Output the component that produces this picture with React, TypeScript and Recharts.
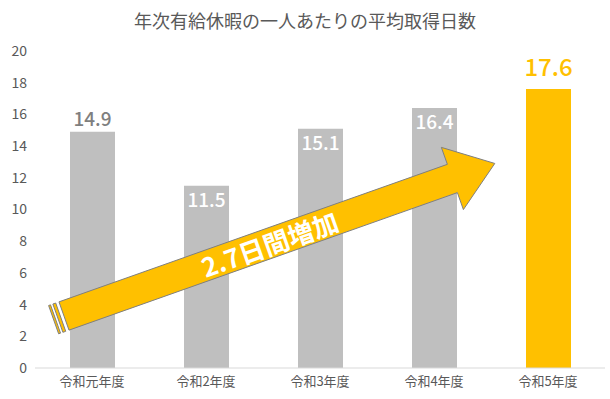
import { BarChart, Bar, XAxis, YAxis, Cell, LabelList } from "recharts";

const years = ["令和元年度", "令和2年度", "令和3年度", "令和4年度", "令和5年度"];
const days = [14.9, 11.5, 15.1, 16.4, 17.6];
const yTicks = [0, 2, 4, 6, 8, 10, 12, 14, 16, 18, 20];
const title = "年次有給休暇の一人あたりの平均取得日数";
const arrowText = "2.7日間増加";

const data = years.map((year, i) => ({ year, days: days[i] }));

const GRAY = "#bfbfbf";
const ORANGE = "#ffc000";
const FONT = "'Noto Sans CJK JP', 'Noto Sans', sans-serif";

// value label: first bar above in gray, middle ones inside in white, last one big orange
function ValueLabel(props: any) {
  const { x, y, width, value, index } = props;
  const cx = x + width / 2;
  if (index === days.length - 1) {
    return (
      <text x={cx} y={y - 13} textAnchor="middle" fill={ORANGE} fontSize={24} fontWeight={500} fontFamily={FONT}>
        {value}
      </text>
    );
  }
  if (index === 0) {
    return (
      <text x={cx} y={y - 6} textAnchor="middle" fill="#7f7f7f" fontSize={19} fontWeight={500} fontFamily={FONT}>
        {value}
      </text>
    );
  }
  return (
    <text x={cx} y={y + 21} textAnchor="middle" fill="#ffffff" fontSize={19} fontWeight={500} fontFamily={FONT}>
      {value}
    </text>
  );
}

// big "increase" arrow annotation drawn over the bars
function Overlay() {
  const ang = (-19.5 * Math.PI) / 180;
  const ux = Math.cos(ang);
  const uy = Math.sin(ang);
  const px = -uy;
  const py = ux;
  const ox = 64;
  const oy = 316;
  const pt = (a: number, p: number) => `${ox + ux * a + px * p},${oy + uy * a + py * p}`;
  const shaft = 15;
  const head = 33;
  const base = 412;
  const tip = 457;
  const body = [
    pt(0, -shaft),
    pt(base, -shaft),
    pt(base, -head),
    pt(tip, 0),
    pt(base, head),
    pt(base, shaft),
    pt(0, shaft),
  ].join(" ");
  const stripe = (a0: number, a1: number) =>
    [pt(a0, -shaft), pt(a1, -shaft), pt(a1, shaft), pt(a0, shaft)].join(" ");
  const tc = { x: ox + ux * 218, y: oy + uy * 218 };
  return (
    <svg width={610} height={399} style={{ position: "absolute", left: 0, top: 0, pointerEvents: "none" }}>
      <text x={305} y={28} textAnchor="middle" fill="#595959" fontSize={18} fontFamily={FONT}>
        {title}
      </text>
      <polygon points={stripe(-11, -9)} fill={ORANGE} stroke="#7f7f7f" strokeWidth={1} />
      <polygon points={stripe(-6.5, -3.5)} fill={ORANGE} stroke="#7f7f7f" strokeWidth={1} />
      <polygon points={body} fill={ORANGE} stroke="#7f7f7f" strokeWidth={1} />
      <text
        x={tc.x}
        y={tc.y}
        textAnchor="middle"
        dominantBaseline="central"
        fill="#ffffff"
        fontSize={26}
        fontWeight={700}
        fontFamily={FONT}
        transform={`rotate(-19.5 ${tc.x} ${tc.y})`}
      >
        {arrowText}
      </text>
    </svg>
  );
}

export default function App() {
  return (
    <div style={{ position: "absolute", left: 0, top: 0, width: 610, height: 399, background: "#fff" }}>
      <BarChart width={610} height={399} data={data} margin={{ top: 51, right: 5, bottom: 0, left: 0 }}>
        <XAxis
          dataKey="year"
          axisLine={{ stroke: "#d9d9d9" }}
          tickLine={false}
          tickSize={0}
          tickMargin={9}
          height={31}
          tick={{ fill: "#595959", fontSize: 13, fontFamily: FONT }}
        />
        <YAxis
          domain={[0, 20]}
          ticks={yTicks}
          axisLine={false}
          tickLine={false}
          tickSize={0}
          tickMargin={8}
          width={35}
          tick={{ fill: "#595959", fontSize: 14, fontFamily: FONT }}
        />
        <Bar dataKey="days" barSize={45} isAnimationActive={false}>
          {data.map((d, i) => (
            <Cell key={d.year} fill={i === data.length - 1 ? ORANGE : GRAY} />
          ))}
          <LabelList dataKey="days" content={ValueLabel} />
        </Bar>
      </BarChart>
      <Overlay />
    </div>
  );
}
